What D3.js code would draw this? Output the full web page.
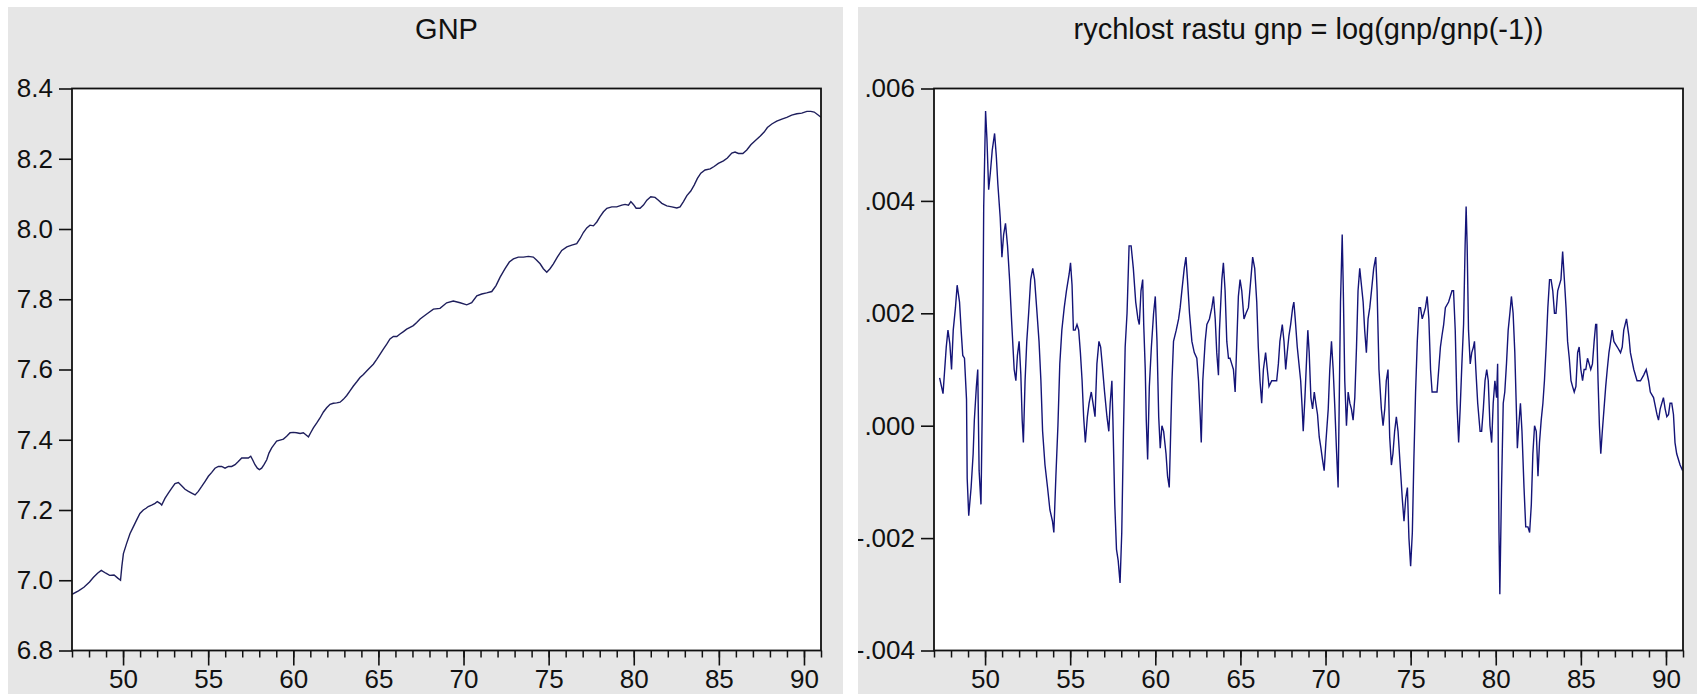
<!DOCTYPE html>
<html><head><meta charset="utf-8">
<script src="https://cdn.jsdelivr.net/npm/d3@7/dist/d3.min.js"></script>
<style>
body{margin:0;background:#fff;}
text{font-family:Arial,"Liberation Sans",sans-serif;fill:#111;}
</style>
</head><body>
<svg id="chart" width="1697" height="694"></svg>
<script>
// ---------- data ----------
const titles = ["GNP", "rychlost rastu gnp = log(gnp/gnp(-1))"];
const xMajorYears = [1950, 1955, 1960, 1965, 1970, 1975, 1980, 1985, 1990];
const xMinorYears = d3.range(1947, 1992);
const gnpTicks = [6.8, 7.0, 7.2, 7.4, 7.6, 7.8, 8.0, 8.2, 8.4];
const rateTicks = [-0.004, -0.002, 0.0, 0.002, 0.004, 0.006];

const gnpYears = [1947.0,1947.38,1947.7,1948.03,1948.25,1948.5,1948.72,1948.99,1949.21,1949.47,1949.69,1949.85,1949.93,1950.02,
1950.21,1950.41,1950.60,1950.80,1950.99,1951.19,1951.35,1951.48,1951.68,1951.88,1952.01,1952.17,1952.27,1952.46,1952.66,1952.86,
1953.05,1953.25,1953.44,1953.64,1953.84,1954.03,1954.23,1954.42,1954.62,1954.81,1955.01,1955.21,1955.40,1955.60,1955.79,1955.99,
1956.19,1956.38,1956.58,1956.77,1956.97,1957.16,1957.36,1957.50,1957.61,1957.75,1957.89,1958.01,1958.14,1958.28,1958.44,1958.57,
1958.73,1958.87,1959.02,1959.22,1959.42,1959.61,1959.81,1960.00,1960.20,1960.40,1960.59,1960.79,1960.89,1961.02,1961.18,1961.38,
1961.57,1961.77,1961.96,1962.16,1962.35,1962.55,1962.75,1962.94,1963.14,1963.33,1963.53,1963.73,1963.92,1964.12,1964.31,1964.51,
1964.70,1964.90,1965.10,1965.29,1965.49,1965.68,1965.88,1966.08,1966.27,1966.47,1966.66,1966.86,1967.05,1967.25,1967.45,
1967.84,1968.23,1968.62,1969.01,1969.40,1969.80,1970.19,1970.48,1970.78,1971.07,1971.36,1971.66,1971.91,1972.15,1972.44,1972.69,
1972.93,1973.22,1973.52,1973.81,1974.10,1974.30,1974.50,1974.69,1974.89,1975.08,1975.28,1975.51,1975.77,1976.07,1976.36,1976.65,
1976.85,1977.04,1977.24,1977.43,1977.63,1977.83,1978.02,1978.22,1978.42,1978.71,1979.00,1979.30,1979.49,1979.69,1979.83,1979.98,
1980.14,1980.37,1980.57,1980.77,1981.00,1981.25,1981.45,1981.65,1981.94,1982.24,1982.53,1982.72,1982.92,1983.12,1983.35,1983.55,
1983.74,1983.94,1984.19,1984.49,1984.72,1984.97,1985.27,1985.50,1985.76,1985.95,1986.15,1986.41,1986.64,1986.88,1987.13,1987.42,
1987.66,1987.85,1988.11,1988.40,1988.70,1988.99,1989.28,1989.58,1989.87,1990.17,1990.40,1990.60,1990.85,1991.0];
const gnpValues = [6.96,6.97,6.98,6.995,7.008,7.02,7.028,7.02,7.014,7.015,7.006,7.0,7.04,7.076,
7.105,7.133,7.152,7.172,7.19,7.2,7.205,7.21,7.214,7.219,7.224,7.219,7.214,7.233,7.248,7.262,
7.275,7.278,7.269,7.259,7.253,7.248,7.243,7.253,7.267,7.281,7.296,7.307,7.319,7.324,7.324,7.319,
7.324,7.324,7.329,7.338,7.348,7.348,7.348,7.353,7.343,7.329,7.319,7.315,7.319,7.329,7.343,7.362,
7.377,7.386,7.396,7.399,7.402,7.41,7.42,7.421,7.42,7.418,7.42,7.412,7.408,7.42,7.434,7.448,
7.462,7.479,7.491,7.501,7.504,7.505,7.507,7.515,7.526,7.539,7.553,7.565,7.577,7.586,7.596,7.606,
7.615,7.629,7.644,7.658,7.672,7.687,7.694,7.694,7.701,7.708,7.715,7.72,7.725,7.734,7.744,
7.758,7.772,7.774,7.79,7.795,7.79,7.784,7.79,7.81,7.815,7.818,7.822,7.839,7.863,7.887,7.906,
7.915,7.92,7.92,7.922,7.92,7.911,7.901,7.887,7.877,7.887,7.901,7.92,7.939,7.949,7.954,7.958,
7.973,7.99,8.003,8.011,8.009,8.02,8.035,8.049,8.059,8.063,8.063,8.068,8.07,8.068,8.078,8.07,
8.059,8.059,8.068,8.082,8.092,8.09,8.082,8.073,8.066,8.063,8.06,8.063,8.078,8.095,8.108,8.125,
8.144,8.159,8.168,8.171,8.178,8.187,8.194,8.202,8.216,8.219,8.215,8.215,8.225,8.24,8.251,8.264,
8.276,8.289,8.299,8.307,8.313,8.318,8.324,8.328,8.33,8.335,8.335,8.333,8.324,8.318];

const rateYears = [1947.33,1947.53,1947.72,1947.82,1947.93,1948.03,1948.13,1948.26,1948.36,1948.50,1948.60,1948.69,1948.79,1948.91,1948.95,
1949.04,1949.18,1949.30,1949.37,1949.49,1949.57,1949.65,1949.76,1949.84,1949.92,1950.03,1950.11,1950.21,1950.31,1950.42,1950.56,
1950.66,1950.75,1950.89,1950.99,1951.09,1951.20,1951.32,1951.44,1951.57,1951.71,1951.81,1951.90,1952.00,1952.10,1952.18,1952.25,
1952.35,1952.45,1952.56,1952.68,1952.80,1952.91,1953.03,1953.17,1953.28,1953.38,1953.52,1953.67,1953.81,1953.96,1954.04,1954.16,
1954.28,1954.39,1954.51,1954.65,1954.78,1954.94,1955.02,1955.11,1955.19,1955.29,1955.40,1955.50,1955.60,1955.70,1955.79,1955.89,
1956.01,1956.11,1956.24,1956.34,1956.46,1956.57,1956.69,1956.79,1956.88,1957.02,1957.16,1957.27,1957.35,1957.45,1957.51,1957.62,
1957.72,1957.82,1957.93,1958.03,1958.13,1958.23,1958.34,1958.46,1958.58,1958.71,1958.85,1958.98,1959.06,1959.16,1959.26,1959.32,
1959.41,1959.47,1959.55,1959.65,1959.77,1959.90,1960.00,1960.10,1960.20,1960.29,1960.39,1960.49,1960.63,1960.72,1960.82,1960.88,
1960.98,1961.07,1961.23,1961.37,1961.46,1961.56,1961.70,1961.80,1961.89,1962.01,1962.15,1962.29,1962.44,1962.54,1962.64,1962.70,
1962.79,1962.93,1963.03,1963.18,1963.32,1963.42,1963.52,1963.61,1963.71,1963.77,1963.91,1964.00,1964.10,1964.20,1964.30,1964.39,
1964.49,1964.59,1964.69,1964.79,1964.88,1964.98,1965.08,1965.21,1965.33,1965.47,1965.61,1965.72,1965.84,1965.96,1966.05,1966.15,
1966.25,1966.35,1966.48,1966.58,1966.68,1966.84,1966.97,1967.13,1967.23,1967.32,1967.46,1967.56,1967.66,1967.75,1967.85,1967.95,
1968.07,1968.14,1968.22,1968.34,1968.44,1968.54,1968.63,1968.69,1968.79,1968.89,1968.96,1969.04,1969.14,1969.24,1969.34,1969.43,
1969.53,1969.63,1969.73,1969.82,1969.92,1970.02,1970.16,1970.25,1970.35,1970.45,1970.55,1970.64,1970.74,1970.80,1970.88,1970.98,
1971.04,1971.13,1971.23,1971.33,1971.43,1971.52,1971.62,1971.72,1971.82,1971.91,1972.01,1972.11,1972.21,1972.30,1972.40,1972.50,
1972.60,1972.70,1972.83,1972.95,1973.03,1973.14,1973.28,1973.38,1973.48,1973.57,1973.67,1973.77,1973.87,1973.96,1974.06,1974.16,
1974.26,1974.51,1974.61,1974.71,1974.81,1974.90,1975.00,1975.10,1975.19,1975.29,1975.39,1975.49,1975.58,1975.68,1975.78,1975.87,
1975.97,1976.07,1976.17,1976.26,1976.46,1976.55,1976.65,1976.75,1976.84,1976.94,1977.04,1977.23,1977.43,1977.52,1977.62,1977.72,
1977.82,1977.91,1978.01,1978.11,1978.20,1978.26,1978.32,1978.40,1978.50,1978.59,1978.69,1978.75,1978.83,1978.94,1979.08,1979.17,
1979.27,1979.37,1979.47,1979.56,1979.66,1979.76,1979.85,1979.95,1980.05,1980.11,1980.19,1980.24,1980.34,1980.44,1980.53,1980.63,
1980.73,1980.83,1980.92,1981.02,1981.12,1981.21,1981.27,1981.35,1981.45,1981.54,1981.66,1981.76,1981.89,1981.99,1982.09,1982.18,
1982.28,1982.38,1982.48,1982.57,1982.67,1982.77,1982.86,1982.96,1983.06,1983.16,1983.25,1983.35,1983.45,1983.54,1983.64,1983.83,
1983.93,1984.03,1984.13,1984.22,1984.32,1984.42,1984.51,1984.61,1984.71,1984.81,1984.90,1985.00,1985.10,1985.19,1985.29,1985.39,
1985.49,1985.58,1985.68,1985.78,1985.87,1985.93,1986.01,1986.09,1986.17,1986.26,1986.36,1986.46,1986.55,1986.65,1986.75,1986.84,
1986.94,1987.14,1987.33,1987.43,1987.52,1987.68,1987.82,1987.91,1988.11,1988.30,1988.50,1988.69,1988.84,1988.98,1989.08,1989.27,
1989.47,1989.56,1989.66,1989.85,1989.95,1990.05,1990.15,1990.24,1990.34,1990.44,1990.53,1990.63,1990.83,1990.98];
const rateValues = [0.00085,0.00057,0.0014,0.0017,0.00146,0.001,0.0017,0.0021,0.0025,0.0022,0.00167,0.00125,0.0012,0.00047,-0.00094,
-0.0016,-0.0011,-0.0005,0.0001,0.0007,0.001,-0.0008,-0.0014,0.0004,0.0039,0.0056,0.0051,0.0042,0.0045,0.0049,0.0052,
0.0048,0.0043,0.0037,0.003,0.0034,0.0036,0.0032,0.0026,0.0018,0.001,0.0008,0.00125,0.0015,0.00092,0.0001,-0.0003,
0.0008,0.0015,0.002,0.0026,0.0028,0.0026,0.0021,0.0015,0.0008,-0.0001,-0.0007,-0.0011,-0.0015,-0.0017,-0.0019,-0.0009,
0.0,0.0011,0.0017,0.0021,0.0024,0.0027,0.0029,0.0025,0.0017,0.0017,0.0018,0.0017,0.0013,0.0008,0.00016,-0.0003,
0.00016,0.0004,0.0006,0.0004,0.00016,0.0011,0.0015,0.0014,0.0011,0.0006,0.00016,-0.0001,0.0004,0.0008,0.0001,-0.0014,
-0.0022,-0.0024,-0.0028,-0.0019,-0.0001,0.0014,0.002,0.0032,0.0032,0.0028,0.0022,0.0019,0.0018,0.0024,0.0026,0.0018,
0.001,0.0001,-0.0006,0.0007,0.0014,0.002,0.0023,0.0015,0.00016,-0.0004,0.0,-0.0001,-0.0005,-0.0009,-0.0011,-0.0004,
0.0008,0.0015,0.0017,0.0019,0.0021,0.0024,0.0028,0.003,0.0026,0.002,0.0015,0.0013,0.0012,0.0008,0.00016,-0.0003,
0.0008,0.0015,0.0018,0.0019,0.0021,0.0023,0.0019,0.0013,0.0009,0.0017,0.0026,0.0029,0.0024,0.0015,0.0012,0.0012,
0.0011,0.001,0.0006,0.0015,0.0023,0.0026,0.0024,0.0019,0.002,0.0021,0.0026,0.003,0.0028,0.0022,0.0014,0.0008,
0.0004,0.001,0.0013,0.001,0.0007,0.0008,0.0008,0.0008,0.0011,0.0015,0.0018,0.0015,0.001,0.0013,0.0016,0.0018,
0.0021,0.0022,0.0019,0.0014,0.0011,0.0008,0.0003,-0.0001,0.0005,0.0012,0.0017,0.0013,0.0005,0.0003,0.0006,0.0004,
0.0002,-0.0002,-0.0004,-0.0006,-0.0008,-0.0003,0.0003,0.001,0.0015,0.001,0.0003,-0.0004,-0.0011,0.0003,0.0022,0.0034,
0.0025,0.0008,0.0,0.0006,0.0004,0.0003,0.0001,0.0005,0.0014,0.0024,0.0028,0.0025,0.0022,0.0017,0.0013,0.0019,
0.0021,0.0024,0.0028,0.003,0.0024,0.001,0.0003,0.0,0.0003,0.0008,0.001,-0.0002,-0.0007,-0.0005,-0.0001,0.00016,
-0.0001,-0.0013,-0.0017,-0.0013,-0.0011,-0.002,-0.0025,-0.0019,-0.0006,0.0006,0.0015,0.0021,0.0021,0.0019,0.002,0.0021,
0.0023,0.0019,0.001,0.0006,0.0006,0.0006,0.001,0.0014,0.0016,0.0018,0.0021,0.0022,0.0024,0.0024,0.0017,0.0004,
-0.0003,0.0003,0.0011,0.0018,0.0032,0.0039,0.0032,0.0017,0.0011,0.0013,0.0014,0.0015,0.001,0.0004,-0.0001,-0.0001,
0.0003,0.0008,0.001,0.0008,0.0,-0.0003,0.0004,0.0008,0.0005,0.0011,-0.0019,-0.003,-0.0011,0.0004,0.0006,0.0011,
0.0017,0.002,0.0023,0.002,0.0013,0.0003,-0.0004,0.0,0.0004,-0.0001,-0.0011,-0.0018,-0.0018,-0.0019,-0.0014,-0.0005,
0.0,-0.0001,-0.0009,-0.0003,0.0001,0.0004,0.0008,0.0014,0.0021,0.0026,0.0026,0.0024,0.002,0.002,0.0024,0.0026,
0.0031,0.0026,0.0021,0.0015,0.0012,0.0008,0.0007,0.0006,0.0007,0.0013,0.0014,0.001,0.0008,0.001,0.001,0.0012,
0.0011,0.001,0.0011,0.0015,0.0018,0.0018,0.0008,0.0,-0.0005,-0.0001,0.0003,0.0007,0.001,0.0013,0.0015,0.0017,
0.0015,0.0014,0.0013,0.0014,0.0017,0.0019,0.0016,0.0013,0.001,0.0008,0.0008,0.0009,0.001,0.0008,0.0006,0.0005,
0.0002,0.0001,0.0003,0.0005,0.0003,0.00016,0.0002,0.0004,0.0004,0.0002,-0.0003,-0.0005,-0.0007,-0.0008];

// ---------- layout ----------
const svg = d3.select("#chart");
const FS = 26;
const xDomain = [1947, 1991];
const plotTop = 88.5, plotBottom = 650.5;

const rateFormat = v => {
  const s = d3.format(".3f")(Math.abs(v)).replace(/^0/, "");
  return (v < -1e-12 ? "-" : "") + s;
};

const panels = [
  {panel:[8, 7, 843, 694], plotX:[72, 821], title: titles[0], years: gnpYears, values: gnpValues,
   yDomain:[6.8, 8.4], yTicks: gnpTicks, fmt: d3.format(".1f"), color:"#1e1e5c"},
  {panel:[858, 7, 1697, 694], plotX:[934, 1683], title: titles[1], years: rateYears, values: rateValues,
   yDomain:[-0.004, 0.006], yTicks: rateTicks, fmt: rateFormat, color:"#141478"}
];

panels.forEach((p, i) => {
  const [px0, py0, px1, py1] = p.panel;
  const defs = svg.append("defs");
  defs.append("clipPath").attr("id", "panelclip" + i)
    .append("rect").attr("x", px0).attr("y", py0).attr("width", px1 - px0).attr("height", py1 - py0);
  defs.append("clipPath").attr("id", "plotclip" + i)
    .append("rect").attr("x", p.plotX[0]).attr("y", plotTop).attr("width", p.plotX[1] - p.plotX[0]).attr("height", plotBottom - plotTop);

  const g = svg.append("g").attr("clip-path", `url(#panelclip${i})`);
  g.append("rect").attr("x", px0).attr("y", py0).attr("width", px1 - px0).attr("height", py1 - py0)
    .attr("fill", "#e6e6e6");

  const x = d3.scaleLinear().domain(xDomain).range(p.plotX);
  const y = d3.scaleLinear().domain(p.yDomain).range([plotBottom, plotTop]);

  // plot background
  g.append("rect").attr("x", p.plotX[0]).attr("y", plotTop)
    .attr("width", p.plotX[1] - p.plotX[0]).attr("height", plotBottom - plotTop).attr("fill", "#fff");

  // title
  g.append("text").attr("x", (p.plotX[0] + p.plotX[1]) / 2).attr("y", 39)
    .attr("text-anchor", "middle").attr("font-size", 29).text(p.title);

  // y axis
  const ya = g.append("g").attr("transform", `translate(${p.plotX[0]},0)`)
    .call(d3.axisLeft(y).tickValues(p.yTicks).tickFormat(p.fmt).tickSize(13).tickPadding(6));
  ya.select(".domain").remove();
  ya.selectAll("line").attr("stroke", "#111").attr("stroke-width", 1.6);
  ya.selectAll("text").attr("font-size", FS).attr("font-family", "Arial, 'Liberation Sans', sans-serif").attr("fill", "#111");

  // x axis minor ticks
  const xm = g.append("g").attr("transform", `translate(0,${plotBottom})`)
    .call(d3.axisBottom(x).tickValues(xMinorYears.filter(v => v <= xDomain[1])).tickFormat("").tickSize(7));
  xm.select(".domain").remove();
  xm.selectAll("line").attr("stroke", "#111").attr("stroke-width", 1.5);

  // x axis major ticks + labels
  const xa = g.append("g").attr("transform", `translate(0,${plotBottom})`)
    .call(d3.axisBottom(x).tickValues(xMajorYears).tickFormat(d => String(d % 100)).tickSize(15).tickPadding(4));
  xa.select(".domain").remove();
  xa.selectAll("line").attr("stroke", "#111").attr("stroke-width", 1.6);
  xa.selectAll("text").attr("font-size", FS).attr("font-family", "Arial, 'Liberation Sans', sans-serif").attr("fill", "#111");

  // series
  const pts = p.years.map((yr, k) => [yr, p.values[k]]);
  const line = d3.line().x(d => x(d[0])).y(d => y(d[1]));
  g.append("path").datum(pts).attr("clip-path", `url(#plotclip${i})`)
    .attr("d", line).attr("fill", "none").attr("stroke", p.color).attr("stroke-width", 1.4)
    .attr("stroke-linejoin", "miter");

  // frame
  g.append("rect").attr("x", p.plotX[0]).attr("y", plotTop)
    .attr("width", p.plotX[1] - p.plotX[0]).attr("height", plotBottom - plotTop)
    .attr("fill", "none").attr("stroke", "#111").attr("stroke-width", 1.8);
});
</script>
</body></html>
